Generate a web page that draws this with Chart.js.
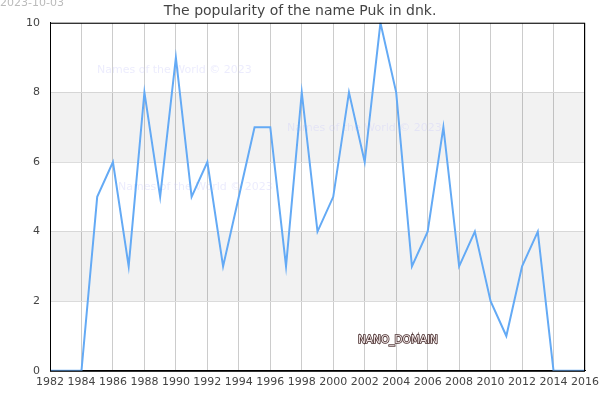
<!DOCTYPE html>
<html>
<head>
<meta charset="utf-8">
<script src="https://cdn.jsdelivr.net/npm/chart.js@4"></script>
<style>
  body { margin: 0; background: #fff; }
  canvas { display: block; }
</style>
</head>
<body>
<canvas id="chart" width="600" height="400"></canvas>
<script>
// popularity of "Puk" in Denmark, per year
const years = [1982, 1983, 1984, 1985, 1986, 1987, 1988, 1989, 1990, 1991, 1992, 1993, 1994, 1995, 1996, 1997, 1998, 1999,
  2000, 2001, 2002, 2003, 2004, 2005, 2006, 2007, 2008, 2009, 2010, 2011, 2012, 2013, 2014, 2015, 2016];
const counts = [0, 0, 0, 5, 6, 3, 8, 5, 9, 5, 6, 3, 5, 7, 7, 3, 8, 4,
  5, 8, 6, 10, 8, 3, 4, 7, 3, 4, 2, 1, 3, 4, 0, 0, 0];
const bands = [[2, 4], [6, 8]];

const extras = {
  id: 'extras',
  beforeDatasetsDraw(chart) {
    const { ctx, chartArea: a, scales: { y } } = chart;
    ctx.save();
    // shaded bands
    ctx.fillStyle = 'rgba(0,0,0,0.05)';
    bands.forEach(b => {
      const top = y.getPixelForValue(b[1]);
      const bot = y.getPixelForValue(b[0]);
      ctx.fillRect(a.left, top, a.right - a.left, bot - top);
    });
    // watermarks
    ctx.font = '11px "DejaVu Sans"';
    ctx.fillStyle = 'rgba(200,200,250,0.35)';
    ctx.textBaseline = 'middle';
    ctx.fillText('Names of the World \u00a9 2023', 97, 70);
    ctx.fillText('Names of the World \u00a9 2023', 287, 128);
    ctx.fillText('Names of the World \u00a9 2023', 118, 187);
    ctx.restore();
  },
  afterDraw(chart) {
    const { ctx, chartArea: a } = chart;
    ctx.save();
    ctx.strokeStyle = '#000';
    ctx.lineWidth = 1;
    ctx.strokeRect(a.left + 0.5, a.top + 0.5, a.right - a.left - 1, a.bottom - a.top);
    // date stamp
    ctx.font = '11px "DejaVu Sans"';
    ctx.fillStyle = '#bbb';
    ctx.textBaseline = 'middle';
    ctx.fillText('2023-10-03', 0, 3);
    // nano domain tag
    ctx.font = '10.5px "DejaVu Sans"';
    ctx.lineWidth = 1.6;
    ctx.strokeStyle = '#4a3030';
    ctx.strokeText('NANO_DOMAIN', 358, 340);
    ctx.fillStyle = '#f3e8e8';
    ctx.fillText('NANO_DOMAIN', 358, 340);
    ctx.restore();
  }
};

new Chart(document.getElementById('chart').getContext('2d'), {
  type: 'line',
  data: {
    labels: years,
    datasets: [{
      data: years.map((yr, i) => ({ x: yr, y: counts[i] })),
      borderColor: 'rgb(100,170,245)',
      borderWidth: 2,
      pointRadius: 0,
      tension: 0,
      fill: false
    }]
  },
  options: {
    responsive: false,
    animation: false,
    layout: { padding: { left: 0, right: 0, top: 0, bottom: 6 } },
    plugins: {
      legend: { display: false },
      tooltip: { enabled: false },
      title: {
        display: true,
        text: 'The popularity of the name Puk in dnk.',
        color: '#444',
        font: { family: 'DejaVu Sans', size: 14, weight: 'normal' },
        padding: { top: 3, bottom: 3 }
      }
    },
    scales: {
      x: {
        type: 'linear',
        min: 1982,
        max: 2016,
        ticks: {
          stepSize: 2,
          color: '#444',
          font: { family: 'DejaVu Sans', size: 11 },
          padding: 5,
          maxRotation: 0,
          callback: v => String(v)
        },
        grid: { color: '#ccc', tickLength: 0, drawTicks: false },
        border: { color: '#000' },
        afterFit(scale) { scale.paddingRight = 15; }
      },
      y: {
        min: 0,
        max: 10,
        ticks: {
          stepSize: 2,
          color: '#444',
          font: { family: 'DejaVu Sans', size: 11 },
          padding: 10
        },
        grid: { color: '#ddd', drawTicks: false },
        border: { color: '#000' },
        afterFit(scale) { scale.width = 50; }
      }
    }
  },
  plugins: [extras]
});
</script>
</body>
</html>
